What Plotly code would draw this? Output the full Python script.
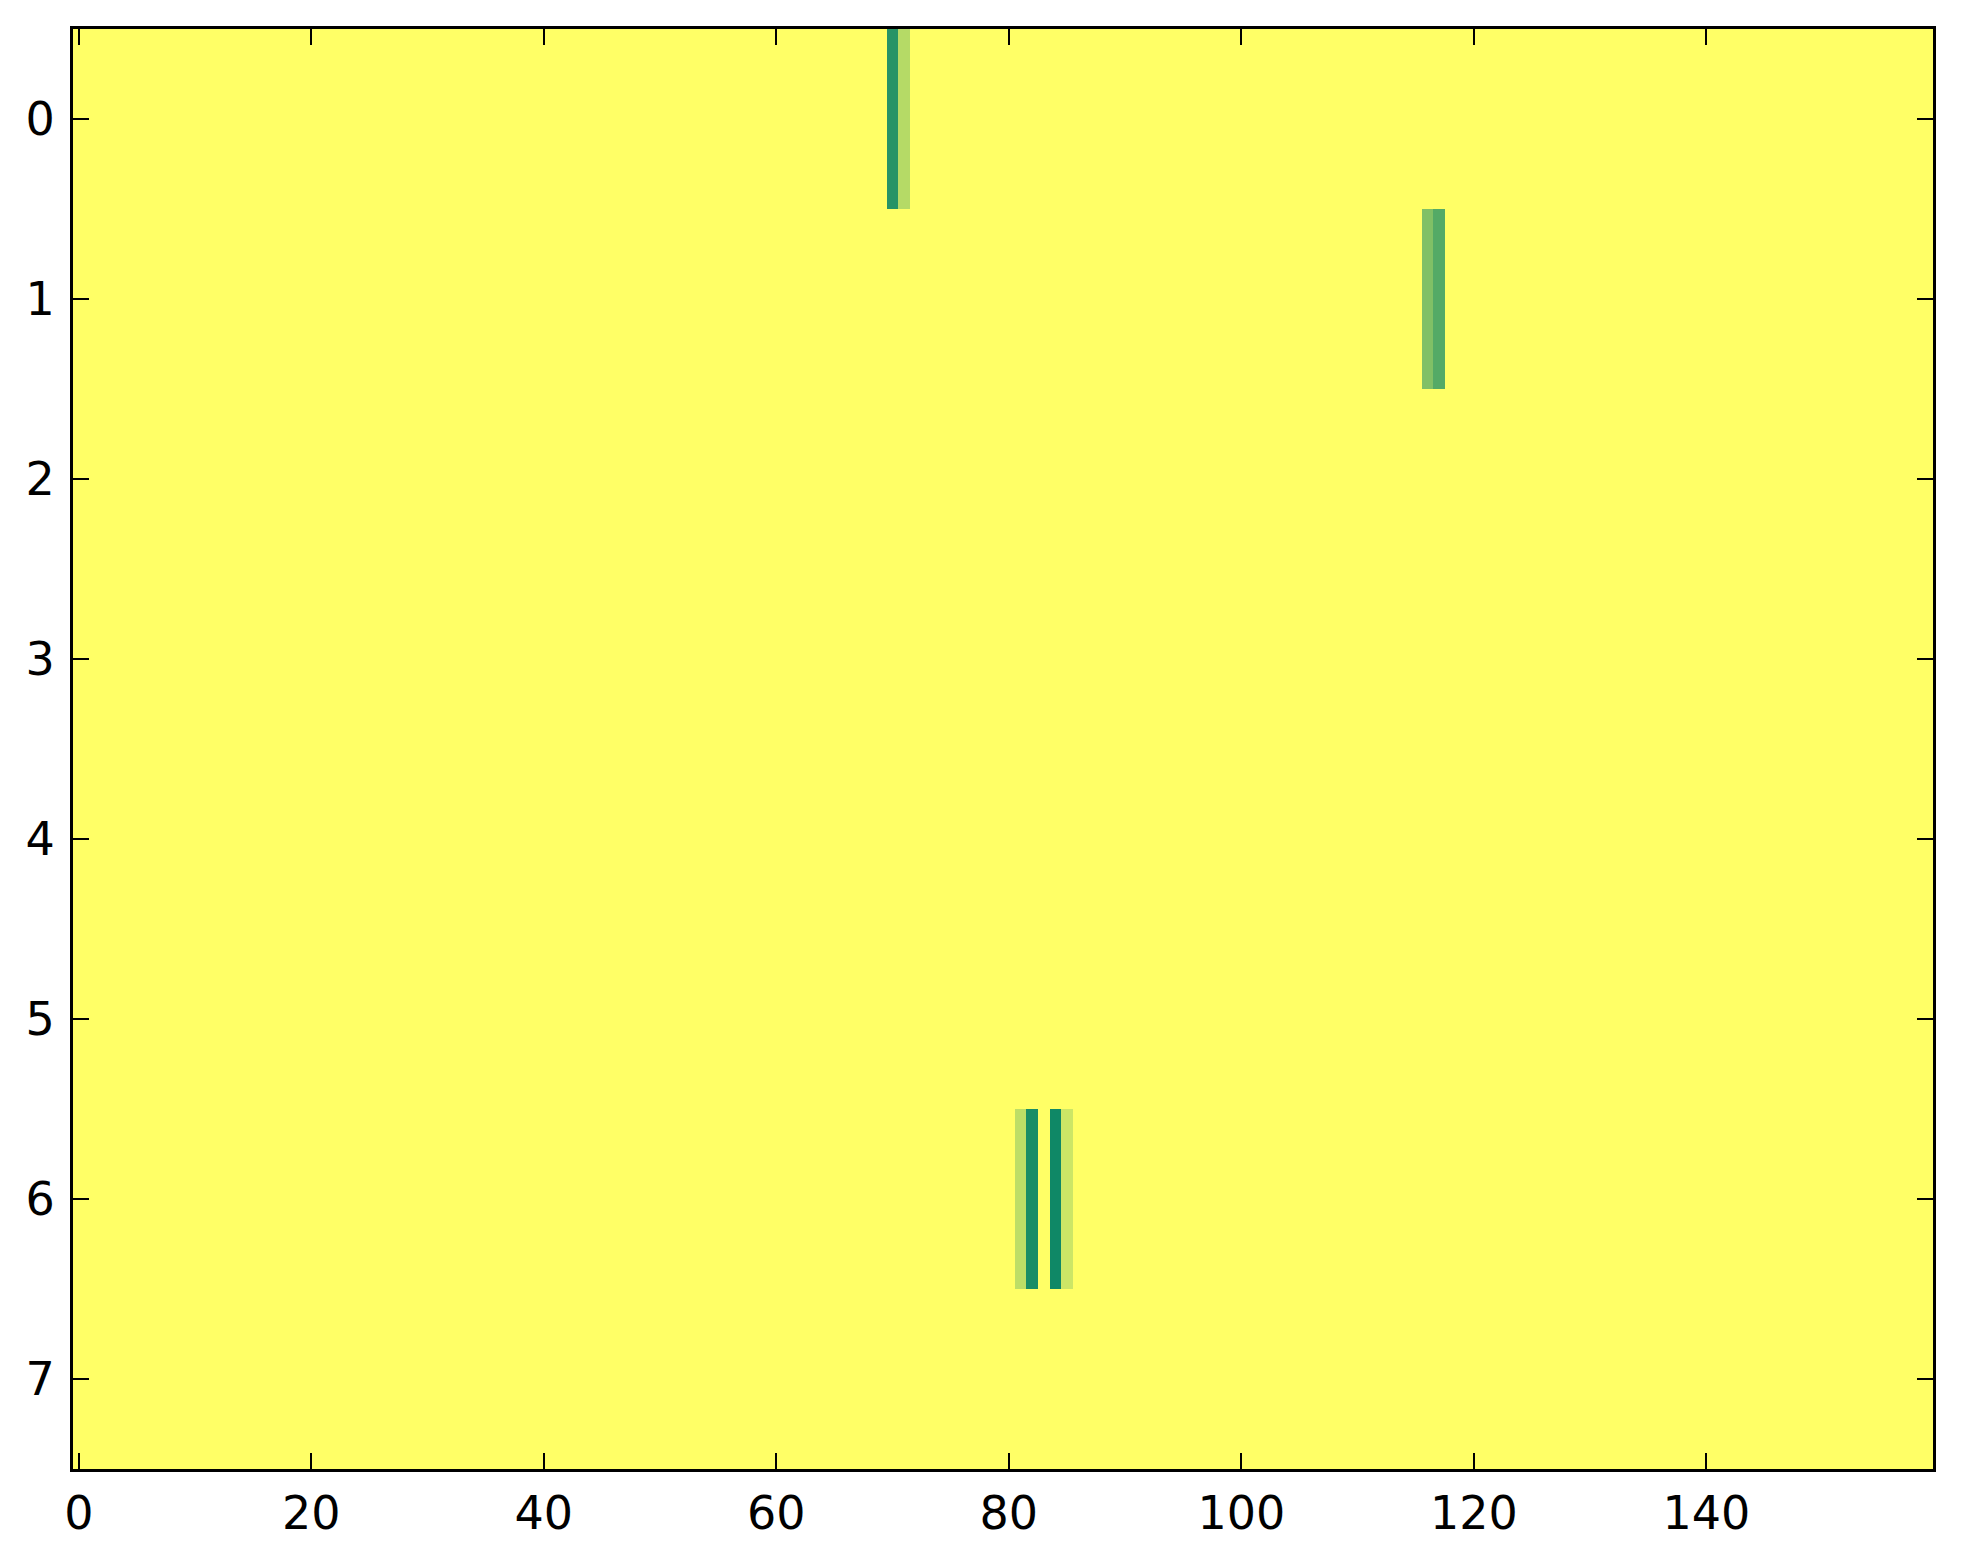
import numpy as np
import plotly.graph_objects as go

# Data: 8 rows x 160 columns, mostly zero; nonzero cells listed here
n_rows = 8
n_cols = 160
cell_rows = [0, 0, 1, 1, 6, 6, 6, 6]
cell_cols = [70, 71, 116, 117, 81, 82, 84, 85]
cell_vals = [0.85, 0.29, 0.50, 0.67, 0.26, 0.90, 0.94, 0.20]

x_ticks = [0, 20, 40, 60, 80, 100, 120, 140]
y_ticks = [0, 1, 2, 3, 4, 5, 6, 7]

z = np.zeros((n_rows, n_cols))
for r, c, v in zip(cell_rows, cell_cols, cell_vals):
    z[r, c] = v

fig = go.Figure(go.Heatmap(
    z=z,
    x=list(range(n_cols)),
    y=list(range(n_rows)),
    colorscale=[[0, "#ffff66"], [1, "#008066"]],
    zmin=0, zmax=1,
    showscale=False,
))

axis_common = dict(
    showline=True, linewidth=3, linecolor="black", mirror="allticks",
    ticks="inside", ticklen=16, tickwidth=1.5, tickcolor="black",
    showgrid=False, zeroline=False,
    tickfont=dict(family="DejaVu Sans", size=46, color="black"),
)

fig.update_xaxes(range=[-0.5, n_cols - 0.5], tickvals=x_ticks,
                 ticktext=[str(t) for t in x_ticks], ticklabelstandoff=2,
                 **axis_common)
fig.update_yaxes(range=[n_rows - 0.5, -0.5], tickvals=y_ticks,
                 ticktext=[str(t) for t in y_ticks], ticklabelstandoff=6,
                 **axis_common)

fig.update_layout(
    width=1963, height=1564,
    margin=dict(l=65, r=38, t=21, b=103),
    paper_bgcolor="white", plot_bgcolor="white",
)

fig.write_html("out.html")
